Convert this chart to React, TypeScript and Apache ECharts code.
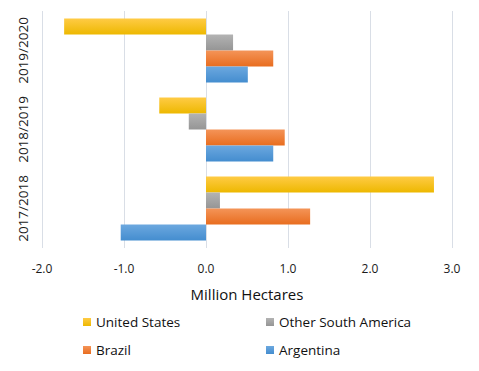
import React, { useEffect, useRef } from "react";
import * as echarts from "echarts";

const categories = ["2017/2018", "2018/2019", "2019/2020"];
const unitedStates = [2.78, -0.57, -1.73];
const otherSouthAmerica = [0.17, -0.21, 0.33];
const brazil = [1.27, 0.96, 0.82];
const argentina = [-1.04, 0.82, 0.51];
const xTicks = [-2, -1, 0, 1, 2, 3];

const FONT = "'Open Sans', 'Liberation Sans', sans-serif";

function grad(top: string, bottom: string) {
  return new echarts.graphic.LinearGradient(0, 0, 0, 1, [
    { offset: 0, color: top },
    { offset: 1, color: bottom },
  ]);
}

export default function App() {
  const ref = useRef<HTMLDivElement>(null);
  useEffect(() => {
    const chart = echarts.init(ref.current!, null, { renderer: "svg" });
    const colors = {
      us: grad("#FFCB45", "#EDB800"),
      other: grad("#B3B3B3", "#959595"),
      brazil: grad("#F49458", "#E86D1F"),
      arg: grad("#6CA8DF", "#448DCF"),
    };
    const mk = (name: string, data: number[], color: any) => ({
      name,
      type: "bar",
      data,
      barWidth: 16,
      barGap: "0%",
      itemStyle: { color },
    });
    const legendCommon = {
      top: 310,
      orient: "vertical",
      icon: "rect",
      itemWidth: 8,
      itemHeight: 8,
      itemGap: 14,
      textStyle: { fontSize: 13.5, color: "#111", fontFamily: FONT },
    };
    chart.setOption({
      animation: false,
      textStyle: { fontFamily: FONT },
      grid: { left: 42, right: 27, top: 11, bottom: 123 },
      xAxis: {
        type: "value",
        min: -2,
        max: 3,
        interval: 1,
        axisLine: { show: false },
        axisTick: { show: false },
        splitLine: { show: true, lineStyle: { color: "#D9DEE6", width: 1 } },
        axisLabel: {
          formatter: (v: number) => (xTicks.includes(v) ? v.toFixed(1) : ""),
          color: "#1a1a1a",
          fontSize: 12,
          margin: 14,
          fontFamily: FONT,
        },
        name: "Million Hectares",
        nameLocation: "middle",
        nameGap: 38,
        nameTextStyle: { fontSize: 15, color: "#111", fontFamily: FONT },
      },
      yAxis: {
        type: "category",
        data: categories,
        axisLine: { show: false },
        axisTick: { show: false },
        axisLabel: {
          interval: 0,
          rotate: 90,
          color: "#1a1a1a",
          fontSize: 13.5,
          margin: 12,
          fontFamily: FONT,
        },
      },
      legend: [
        { ...legendCommon, left: 78, data: ["United States", "Brazil"] },
        { ...legendCommon, left: 261, data: ["Other South America", "Argentina"] },
      ],
      series: [
        mk("United States", unitedStates, colors.us),
        mk("Other South America", otherSouthAmerica, colors.other),
        mk("Brazil", brazil, colors.brazil),
        mk("Argentina", argentina, colors.arg),
      ],
    });
    return () => chart.dispose();
  }, []);
  return <div ref={ref} style={{ width: 479, height: 371, margin: -8 }} />;
}
